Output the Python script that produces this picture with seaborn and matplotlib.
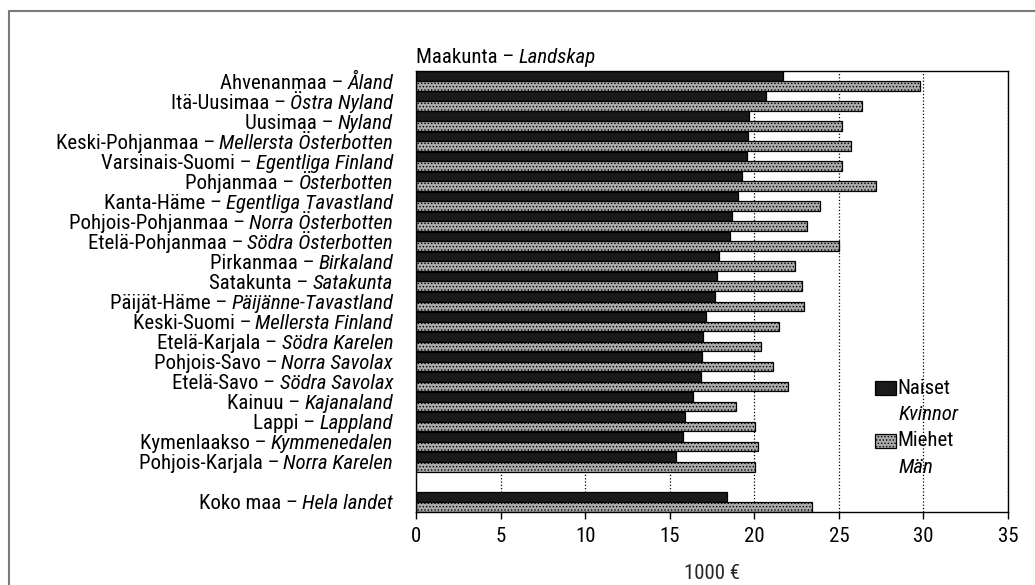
import numpy as np
import pandas as pd
import matplotlib
matplotlib.use('Agg')
import matplotlib.pyplot as plt
import matplotlib.patches as mpatches
import matplotlib.lines as mlines
from matplotlib import font_manager
from matplotlib.transforms import offset_copy
import seaborn as sns

# --- data (1000 EUR) ---
regions_fi = ['Ahvenanmaa', 'Itä-Uusimaa', 'Uusimaa', 'Keski-Pohjanmaa', 'Varsinais-Suomi',
              'Pohjanmaa', 'Kanta-Häme', 'Pohjois-Pohjanmaa', 'Etelä-Pohjanmaa', 'Pirkanmaa',
              'Satakunta', 'Päijät-Häme', 'Keski-Suomi', 'Etelä-Karjala', 'Pohjois-Savo',
              'Etelä-Savo', 'Kainuu', 'Lappi', 'Kymenlaakso', 'Pohjois-Karjala', 'Koko maa']
regions_sv = ['Åland', 'Östra Nyland', 'Nyland', 'Mellersta Österbotten', 'Egentliga Finland',
              'Österbotten', 'Egentliga Tavastland', 'Norra Österbotten', 'Södra Österbotten', 'Birkaland',
              'Satakunta', 'Päijänne-Tavastland', 'Mellersta Finland', 'Södra Karelen', 'Norra Savolax',
              'Södra Savolax', 'Kajanaland', 'Lappland', 'Kymmenedalen', 'Norra Karelen', 'Hela landet']
naiset = [21.7, 20.7, 19.7, 19.6, 19.55, 19.3, 19.05, 18.7, 18.55, 17.9,
          17.8, 17.7, 17.15, 16.95, 16.9, 16.85, 16.35, 15.9, 15.8, 15.35, 18.4]
miehet = [29.8, 26.35, 25.2, 25.7, 25.2, 27.2, 23.9, 23.1, 25.0, 22.4,
          22.85, 22.95, 21.45, 20.4, 21.1, 22.0, 18.9, 20.05, 20.2, 20.05, 23.4]
series = ['Naiset', 'Miehet']
series_sv = ['Kvinnor', 'Män']
x_ticks = [0, 5, 10, 15, 20, 25, 30, 35]

n = len(regions_fi)
df = pd.DataFrame({
    'maakunta': regions_fi * 2,
    'sukupuoli': [series[0]] * n + [series[1]] * n,
    'tulo': naiset + miehet,
})
# blank slot before the whole-country row
order = regions_fi[:-1] + [''] + [regions_fi[-1]]

sns.set_theme(style='white')
names = {f.name for f in font_manager.fontManager.ttflist}
if 'Liberation Sans Narrow' in names:
    fam = 'Liberation Sans Narrow'
elif 'Roboto Condensed' in names:
    fam = 'Roboto Condensed'
else:
    fam = 'Liberation Sans'
plt.rcParams['font.family'] = [fam, 'DejaVu Sans']
plt.rcParams['hatch.linewidth'] = 0.6
plt.rcParams['text.color'] = 'black'

fig = plt.figure(figsize=(10.35, 5.85), dpi=100)
ax = fig.add_axes([416 / 1035, 1 - 512 / 585, 592 / 1035, 441 / 585])
renderer = fig.canvas.get_renderer()

# fit label size to the widest label, but keep rows from touching
probe = fig.text(0, 0, 'Keski-Pohjanmaa – Mellersta Österbotten', fontsize=13)
fs = 13 * 358 / probe.get_window_extent(renderer).width
probe.remove()
fs = min(fs, 15)

colors = {'Naiset': '#1a1a1a', 'Miehet': '#aaaaaa'}
sns.barplot(data=df, x='tulo', y='maakunta', hue='sukupuoli', order=order,
            hue_order=series, palette=colors, saturation=1, width=0.96,
            edgecolor='black', linewidth=0.9, errorbar=None, legend=False,
            orient='h', ax=ax, zorder=2)
for bar in ax.containers[1]:
    bar.set_hatch('.....')

ax.set_xlim(0, 35)
ax.set_ylim(len(order) - 0.5, -0.5)
ax.set_xticks(x_ticks)
ax.grid(axis='x', linestyle=':', color='black', linewidth=0.9)
ax.grid(axis='y', visible=False)
ax.set_axisbelow(True)
ax.tick_params(axis='x', length=5, width=1, direction='out', pad=6,
               labelsize=fs, colors='black', bottom=True)
ax.tick_params(axis='y', length=0, labelleft=False)
for s in ax.spines.values():
    s.set_visible(True)
    s.set_color('black')
    s.set_linewidth(1)
ax.set_ylabel('')
ax.set_xlabel('1000 €', fontsize=fs, labelpad=13)


def two_part(x, y, regular, italic, trans, dx, dy, ha):
    # regular + italic text drawn side by side
    if ha == 'right':
        t2 = ax.text(x, y, italic, transform=offset_copy(trans, fig=fig, x=dx, y=dy, units='dots'),
                     ha='right', va='baseline', fontstyle='italic', fontsize=fs)
        w = t2.get_window_extent(renderer).width
        ax.text(x, y, regular + ' –', transform=offset_copy(trans, fig=fig, x=dx - w - 4, y=dy, units='dots'),
                ha='right', va='baseline', fontsize=fs)
    else:
        t1 = ax.text(x, y, regular + ' –', transform=offset_copy(trans, fig=fig, x=dx, y=dy, units='dots'),
                     ha='left', va='baseline', fontsize=fs)
        w = t1.get_window_extent(renderer).width
        ax.text(x, y, italic, transform=offset_copy(trans, fig=fig, x=dx + w + 4, y=dy, units='dots'),
                ha='left', va='baseline', fontstyle='italic', fontsize=fs)


ytrans = ax.get_yaxis_transform()
for fi, sv in zip(regions_fi, regions_sv):
    two_part(0, order.index(fi), fi, sv, ytrans, -23, -7.5, 'right')

two_part(0, 1, 'Maakunta', 'Landskap', ax.transAxes, 0, 8, 'left')

# legend, drawn by hand to get the two-language labels
leg_y = [0.265, 0.145]
for lab, lab_sv, yy, key in zip(series, series_sv, leg_y, series):
    ax.add_patch(mpatches.Rectangle((0.776, yy), 0.034, 0.032, transform=ax.transAxes,
                                    facecolor=colors[key], edgecolor='black', linewidth=0.9,
                                    hatch='.....' if key == 'Miehet' else None, zorder=5))
    ax.text(0.813, yy + 0.016, lab, transform=ax.transAxes, ha='left', va='center', fontsize=fs)
    ax.text(0.815, yy - 0.044, lab_sv, transform=ax.transAxes, ha='left', va='center',
            fontsize=fs, fontstyle='italic')

# outer frame (left and top edges)
fx = 9 / 1035
fy = 1 - 11 / 585
fig.add_artist(mlines.Line2D([fx, fx, 1], [0, fy, fy], transform=fig.transFigure,
                             color='#7a7a7a', linewidth=1.5))

fig.savefig('out.png', dpi=100, facecolor='white')
